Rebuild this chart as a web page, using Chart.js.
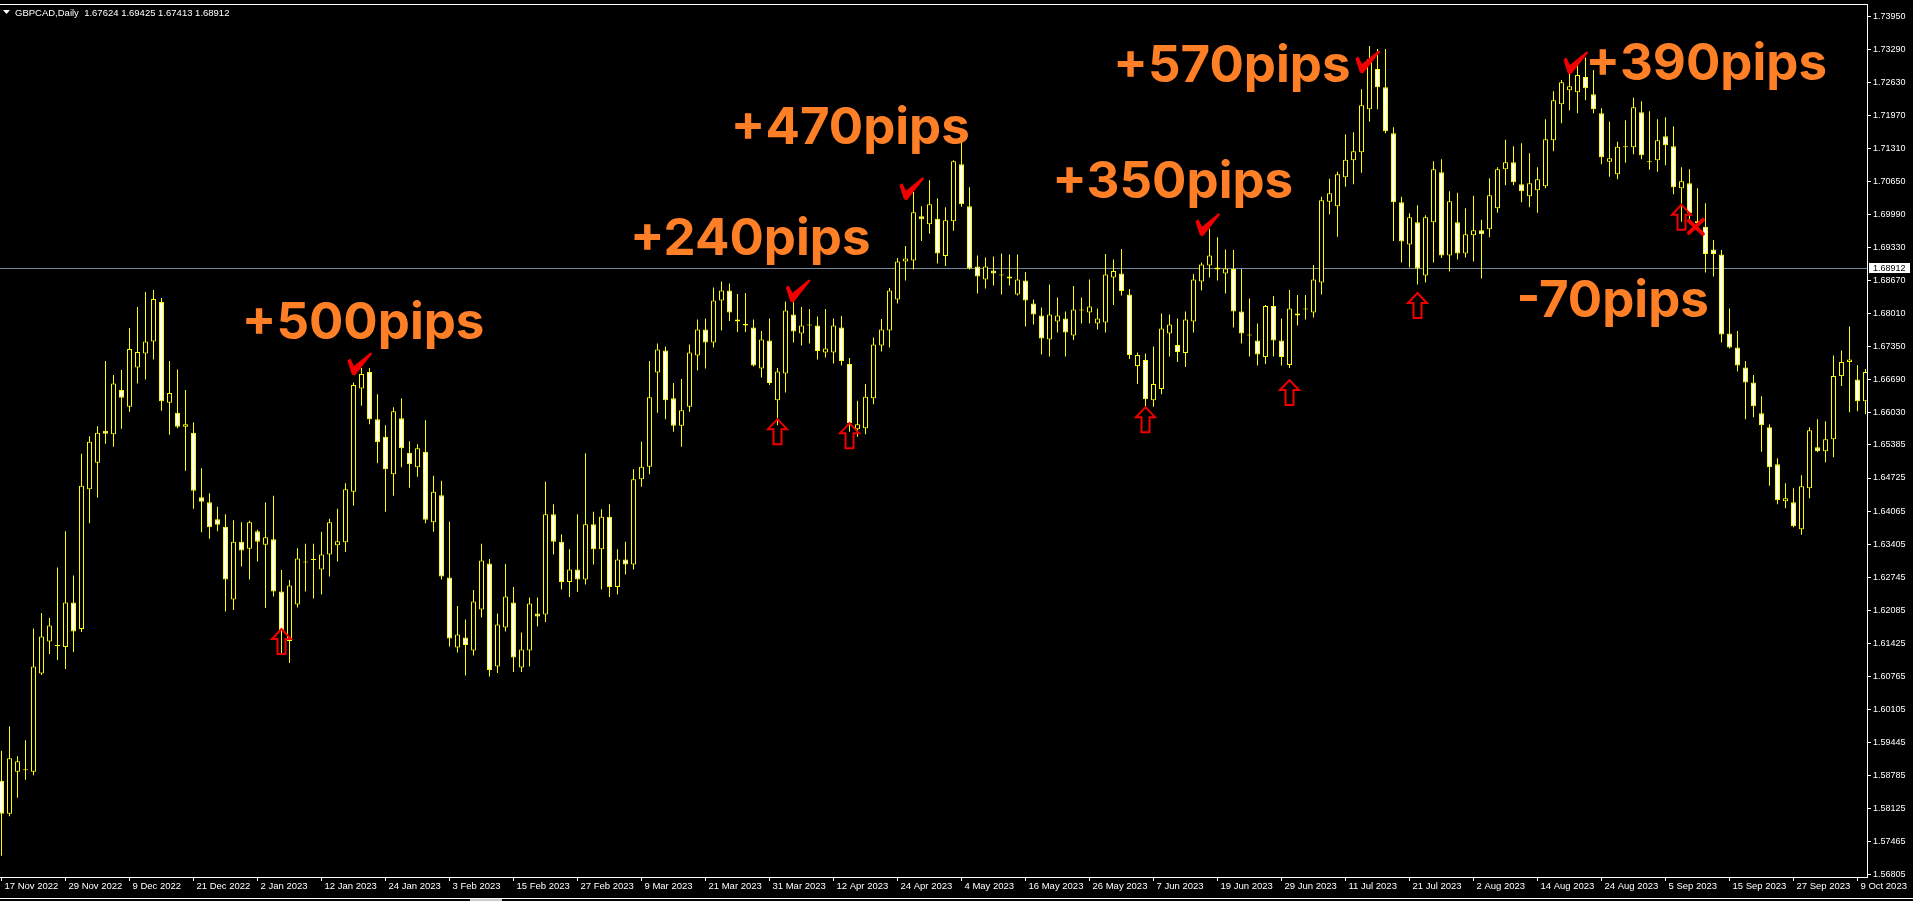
<!DOCTYPE html>
<html lang="ja">
<head>
  <meta charset="UTF-8">
  <title>GBPCAD,Daily</title>
  <script src="https://cdn.jsdelivr.net/npm/chart.js"></script>
  <style>
    body { margin: 0; background: #000; overflow: hidden; }
    canvas { display: block; }
  </style>
</head>
<body>
  <canvas id="candleChart" width="1913" height="901"></canvas>
  <script>
    // daily OHLC, one entry per bar (17 Nov 2022 .. 10 Oct 2023)
    const opens = [
      1.5868, 1.5802, 1.5886, 1.5889, 1.5886, 1.6082, 1.6146, 1.6137, 1.6135, 1.6224,
      1.6171, 1.6450, 1.6503, 1.6567, 1.6560, 1.6648, 1.6615, 1.6693, 1.6721, 1.6745,
      1.6824, 1.6623, 1.6603, 1.6575, 1.6563, 1.6434, 1.6424, 1.6390, 1.6375, 1.6230,
      1.6345, 1.6331, 1.6366, 1.6339, 1.6350, 1.6246, 1.6147, 1.6220, 1.6304, 1.6309,
      1.6290, 1.6320, 1.6338, 1.6344, 1.6445, 1.6651, 1.6684, 1.6590, 1.6555, 1.6480,
      1.6592, 1.6523, 1.6494, 1.6525, 1.6384, 1.6438, 1.6274, 1.6134, 1.6154, 1.6128,
      1.6210, 1.6302, 1.6096, 1.6174, 1.6224, 1.6094, 1.6128, 1.6202, 1.6200, 1.6400,
      1.6345, 1.6265, 1.6290, 1.6270, 1.6380, 1.6330, 1.6395, 1.6255, 1.6310, 1.6300,
      1.6470, 1.6495, 1.6683, 1.6727, 1.6632, 1.6577, 1.6615, 1.6717, 1.6769, 1.6743,
      1.6827, 1.6847, 1.6789, 1.6780, 1.6773, 1.6691, 1.6747, 1.6628, 1.6681, 1.6799,
      1.6761, 1.6777, 1.6777, 1.6723, 1.6723, 1.6773, 1.6700, 1.6570, 1.6572, 1.6632,
      1.6737, 1.6767, 1.6829, 1.6905, 1.6907, 1.6995, 1.6979, 1.6990, 1.6916, 1.6985,
      1.7099, 1.7015, 1.6895, 1.6869, 1.6887, 1.6877, 1.6875, 1.6839, 1.6867, 1.6821,
      1.6797, 1.6749, 1.6785, 1.6791, 1.6757, 1.6807, 1.6803, 1.6781, 1.6783, 1.6873,
      1.6881, 1.6839, 1.6696, 1.6708, 1.6628, 1.6650, 1.6761, 1.6738, 1.6722, 1.6785,
      1.6865, 1.6897, 1.6893, 1.6881, 1.6890, 1.6805, 1.6757, 1.6747, 1.6714, 1.6816,
      1.6747, 1.6698, 1.6797, 1.6809, 1.6803, 1.6863, 1.7024, 1.7015, 1.7073, 1.7107,
      1.7123, 1.7209, 1.7289, 1.7253, 1.7161, 1.7023, 1.6939, 1.6983, 1.6877, 1.6983,
      1.7083, 1.6917, 1.6983, 1.6921, 1.6957, 1.6967, 1.6969, 1.7011, 1.7089, 1.7103,
      1.7059, 1.7035, 1.7047, 1.7055, 1.7147, 1.7219, 1.7247, 1.7243, 1.7273, 1.7239,
      1.7201, 1.7104, 1.7079, 1.7133, 1.7133, 1.7203, 1.7103, 1.7107, 1.7155, 1.7135,
      1.7051, 1.7061, 1.6985, 1.6974, 1.6929, 1.6919, 1.6761, 1.6733, 1.6693, 1.6663,
      1.6602, 1.6574, 1.6500, 1.6426, 1.6424, 1.6370, 1.6452, 1.6534, 1.6526, 1.6550,
      1.6676, 1.6704, 1.6669, 1.6626
    ];
    const highs = [
      1.5928, 1.5977, 1.5917, 1.5949, 1.6172, 1.6203, 1.6193, 1.6294, 1.6366, 1.6278,
      1.6521, 1.6556, 1.6576, 1.6706, 1.6678, 1.6688, 1.6772, 1.6814, 1.6844, 1.6848,
      1.6832, 1.6706, 1.6689, 1.6648, 1.6584, 1.6492, 1.6442, 1.6415, 1.6400, 1.6388,
      1.6384, 1.6387, 1.6369, 1.6424, 1.6437, 1.6289, 1.6269, 1.6332, 1.6341, 1.6341,
      1.6365, 1.6391, 1.6411, 1.6462, 1.6663, 1.6692, 1.6692, 1.6640, 1.6578, 1.6614,
      1.6632, 1.6546, 1.6540, 1.6588, 1.6477, 1.6467, 1.6385, 1.6217, 1.6190, 1.6249,
      1.6341, 1.6311, 1.6202, 1.6301, 1.6255, 1.6164, 1.6234, 1.6234, 1.6465, 1.6420,
      1.6360, 1.6330, 1.6400, 1.6522, 1.6405, 1.6410, 1.6420, 1.6330, 1.6345, 1.6490,
      1.6545, 1.6706, 1.6741, 1.6735, 1.6662, 1.6670, 1.6739, 1.6789, 1.6791, 1.6853,
      1.6865, 1.6861, 1.6840, 1.6842, 1.6789, 1.6766, 1.6791, 1.6692, 1.6825, 1.6835,
      1.6814, 1.6810, 1.6795, 1.6810, 1.6791, 1.6796, 1.6712, 1.6627, 1.6660, 1.6753,
      1.6790, 1.6852, 1.6912, 1.6936, 1.7044, 1.7015, 1.7067, 1.7031, 1.7013, 1.7107,
      1.7145, 1.7053, 1.6917, 1.6913, 1.6915, 1.6921, 1.6919, 1.6919, 1.6884, 1.6829,
      1.6813, 1.6859, 1.6833, 1.6805, 1.6856, 1.6833, 1.6869, 1.6811, 1.6920, 1.6909,
      1.6930, 1.6850, 1.6723, 1.6721, 1.6735, 1.6801, 1.6799, 1.6791, 1.6805, 1.6880,
      1.6903, 1.6970, 1.6953, 1.6929, 1.6928, 1.6890, 1.6831, 1.6781, 1.6818, 1.6836,
      1.6791, 1.6848, 1.6838, 1.6838, 1.6898, 1.7034, 1.7070, 1.7084, 1.7159, 1.7163,
      1.7249, 1.7335, 1.7329, 1.7329, 1.7173, 1.7034, 1.7001, 1.7017, 1.6997, 1.7105,
      1.7109, 1.7045, 1.7042, 1.7011, 1.7036, 1.6988, 1.7071, 1.7093, 1.7148, 1.7135,
      1.7141, 1.7121, 1.7093, 1.7189, 1.7245, 1.7267, 1.7281, 1.7305, 1.7312, 1.7287,
      1.7211, 1.7184, 1.7144, 1.7187, 1.7232, 1.7225, 1.7205, 1.7189, 1.7193, 1.7175,
      1.7093, 1.7089, 1.7051, 1.7021, 1.6948, 1.6928, 1.6811, 1.6766, 1.6706, 1.6678,
      1.6636, 1.6580, 1.6512, 1.6462, 1.6452, 1.6478, 1.6574, 1.6590, 1.6586, 1.6717,
      1.6727, 1.6775, 1.6698, 1.6690
    ];
    const lows = [
      1.5718, 1.5797, 1.5834, 1.5870, 1.5879, 1.6079, 1.6121, 1.6109, 1.6091, 1.6125,
      1.6165, 1.6382, 1.6433, 1.6541, 1.6535, 1.6571, 1.6605, 1.6661, 1.6669, 1.6709,
      1.6607, 1.6559, 1.6572, 1.6487, 1.6411, 1.6364, 1.6351, 1.6366, 1.6206, 1.6209,
      1.6296, 1.6270, 1.6306, 1.6213, 1.6236, 1.6119, 1.6103, 1.6214, 1.6246, 1.6232,
      1.6240, 1.6276, 1.6306, 1.6325, 1.6417, 1.6617, 1.6580, 1.6502, 1.6405, 1.6437,
      1.6494, 1.6453, 1.6475, 1.6382, 1.6365, 1.6270, 1.6136, 1.6124, 1.6078, 1.6118,
      1.6194, 1.6076, 1.6083, 1.6166, 1.6085, 1.6085, 1.6096, 1.6176, 1.6185, 1.6320,
      1.6250, 1.6235, 1.6245, 1.6260, 1.6300, 1.6250, 1.6235, 1.6240, 1.6280, 1.6290,
      1.6455, 1.6480, 1.6603, 1.6590, 1.6565, 1.6535, 1.6605, 1.6687, 1.6691, 1.6733,
      1.6767, 1.6786, 1.6764, 1.6764, 1.6695, 1.6673, 1.6658, 1.6578, 1.6643, 1.6743,
      1.6737, 1.6741, 1.6709, 1.6713, 1.6701, 1.6697, 1.6565, 1.6555, 1.6560, 1.6620,
      1.6725, 1.6733, 1.6821, 1.6867, 1.6889, 1.6946, 1.6960, 1.6901, 1.6896, 1.6966,
      1.7014, 1.6889, 1.6841, 1.6851, 1.6857, 1.6839, 1.6857, 1.6837, 1.6775, 1.6779,
      1.6719, 1.6715, 1.6763, 1.6715, 1.6748, 1.6781, 1.6781, 1.6769, 1.6763, 1.6818,
      1.6837, 1.6710, 1.6660, 1.6612, 1.6615, 1.6640, 1.6715, 1.6704, 1.6694, 1.6763,
      1.6847, 1.6873, 1.6867, 1.6841, 1.6773, 1.6741, 1.6715, 1.6697, 1.6700, 1.6715,
      1.6697, 1.6692, 1.6777, 1.6789, 1.6793, 1.6839, 1.6999, 1.6954, 1.7054, 1.7059,
      1.7082, 1.7184, 1.7209, 1.7161, 1.6946, 1.6903, 1.6893, 1.6859, 1.6863, 1.6903,
      1.6912, 1.6885, 1.6909, 1.6913, 1.6905, 1.6871, 1.6953, 1.7002, 1.7057, 1.7057,
      1.7023, 1.7013, 1.7002, 1.7051, 1.7125, 1.7181, 1.7207, 1.7201, 1.7227, 1.7201,
      1.7099, 1.7074, 1.7069, 1.7102, 1.7119, 1.7109, 1.7088, 1.7084, 1.7097, 1.7039,
      1.6984, 1.6989, 1.6971, 1.6883, 1.6875, 1.6743, 1.6731, 1.6685, 1.6590, 1.6594,
      1.6525, 1.6457, 1.6420, 1.6412, 1.6374, 1.6359, 1.6432, 1.6524, 1.6504, 1.6514,
      1.6656, 1.6604, 1.6606, 1.6600
    ];
    const closes = [
      1.5802, 1.5913, 1.5907, 1.5890, 1.6096, 1.6156, 1.6178, 1.6138, 1.6224, 1.6166,
      1.6457, 1.6545, 1.6563, 1.6561, 1.6661, 1.6633, 1.6730, 1.6724, 1.6745, 1.6830,
      1.6626, 1.6642, 1.6575, 1.6580, 1.6447, 1.6425, 1.6374, 1.6379, 1.6270, 1.6345,
      1.6328, 1.6384, 1.6345, 1.6354, 1.6246, 1.6169, 1.6258, 1.6312, 1.6305, 1.6310,
      1.6320, 1.6384, 1.6346, 1.6450, 1.6658, 1.6680, 1.6590, 1.6544, 1.6490, 1.6606,
      1.6532, 1.6500, 1.6532, 1.6389, 1.6445, 1.6276, 1.6152, 1.6160, 1.6139, 1.6226,
      1.6308, 1.6089, 1.6180, 1.6236, 1.6114, 1.6130, 1.6222, 1.6196, 1.6400, 1.6345,
      1.6265, 1.6290, 1.6270, 1.6380, 1.6330, 1.6395, 1.6255, 1.6310, 1.6300, 1.6470,
      1.6495, 1.6634, 1.6729, 1.6628, 1.6577, 1.6608, 1.6723, 1.6769, 1.6743, 1.6827,
      1.6847, 1.6803, 1.6785, 1.6777, 1.6697, 1.6749, 1.6662, 1.6685, 1.6807, 1.6765,
      1.6777, 1.6777, 1.6726, 1.6731, 1.6777, 1.6706, 1.6582, 1.6580, 1.6635, 1.6739,
      1.6769, 1.6847, 1.6905, 1.6911, 1.7003, 1.6989, 1.7019, 1.6921, 1.6987, 1.7105,
      1.7019, 1.6891, 1.6875, 1.6895, 1.6881, 1.6877, 1.6871, 1.6869, 1.6827, 1.6799,
      1.6751, 1.6799, 1.6797, 1.6763, 1.6809, 1.6807, 1.6815, 1.6791, 1.6879, 1.6886,
      1.6846, 1.6718, 1.6718, 1.6630, 1.6660, 1.6771, 1.6779, 1.6724, 1.6789, 1.6869,
      1.6899, 1.6917, 1.6889, 1.6891, 1.6805, 1.6761, 1.6757, 1.6719, 1.6816, 1.6747,
      1.6714, 1.6811, 1.6801, 1.6809, 1.6869, 1.7027, 1.7041, 1.7079, 1.7108, 1.7125,
      1.7217, 1.7309, 1.7253, 1.7165, 1.7023, 1.6945, 1.6993, 1.6891, 1.6993, 1.7089,
      1.6917, 1.7025, 1.6921, 1.6959, 1.6967, 1.6959, 1.7037, 1.7089, 1.7103, 1.7063,
      1.7045, 1.7061, 1.7069, 1.7149, 1.7227, 1.7263, 1.7255, 1.7277, 1.7251, 1.7209,
      1.7113, 1.7111, 1.7134, 1.7133, 1.7213, 1.7117, 1.7103, 1.7147, 1.7137, 1.7053,
      1.7065, 1.7001, 1.6981, 1.6920, 1.6920, 1.6759, 1.6733, 1.6697, 1.6663, 1.6616,
      1.6578, 1.6494, 1.6428, 1.6432, 1.6376, 1.6456, 1.6568, 1.6526, 1.6550, 1.6676,
      1.6704, 1.6709, 1.6626, 1.6684
    ];

    // time axis labels, one every 8 bars
    const dateLabels = [
      '17 Nov 2022', '29 Nov 2022', '9 Dec 2022', '21 Dec 2022', '2 Jan 2023', '12 Jan 2023',
      '24 Jan 2023', '3 Feb 2023', '15 Feb 2023', '27 Feb 2023', '9 Mar 2023', '21 Mar 2023',
      '31 Mar 2023', '12 Apr 2023', '24 Apr 2023', '4 May 2023', '16 May 2023', '26 May 2023',
      '7 Jun 2023', '19 Jun 2023', '29 Jun 2023', '11 Jul 2023', '21 Jul 2023', '2 Aug 2023',
      '14 Aug 2023', '24 Aug 2023', '5 Sep 2023', '15 Sep 2023', '27 Sep 2023', '9 Oct 2023'
    ];
    const labelEvery = 8;

    const priceTicks = [
      1.56805, 1.57465, 1.58125, 1.58785, 1.59445, 1.60105, 1.60765, 1.61425, 1.62085,
      1.62745, 1.63405, 1.64065, 1.64725, 1.65385, 1.66030, 1.66690, 1.67350, 1.68010,
      1.68670, 1.69330, 1.69990, 1.70650, 1.71310, 1.71970, 1.72630, 1.73290, 1.73950
    ];
    const priceMin = 1.56758;
    const priceMax = 1.74190;
    const bidPrice = 1.68912;
    const titleText = 'GBPCAD,Daily  1.67624 1.69425 1.67413 1.68912';

    // annotations drawn on top of the chart (bar index, price)
    const pipTexts = ['+500pips', '+240pips', '+470pips', '+350pips', '+570pips', '+390pips', '-70pips'];
    const pipBars = [45.2, 93.6, 106.1, 146.4, 153.8, 213.1, 201.4];
    const pipPrices = [1.6750, 1.6918, 1.7139, 1.7032, 1.7263, 1.7267, 1.6794];

    const checkBars = [44.8, 99.6, 113.8, 150.8, 170.8, 196.8];
    const checkPrices = [1.6700, 1.6846, 1.7050, 1.6978, 1.7303, 1.7301];

    const arrowBars = [35, 97, 106, 143, 161, 177, 210];
    const arrowPrices = [1.6173, 1.6592, 1.6584, 1.6616, 1.6670, 1.6844, 1.7020];

    const crossBars = [211.8];
    const crossPrices = [1.6974];

    const bodyData = opens.map((o, i) => ({ x: i, y: [Math.min(o, closes[i]), Math.max(o, closes[i])] }));
    const bodyColors = opens.map((o, i) => closes[i] >= o ? '#000000' : '#ffffff');
    const wickData = highs.map((h, i) => ({ x: i, y: [lows[i], h] }));

    const markPlugin = {
      id: 'marks',
      beforeDatasetsDraw(chart) {
        const ctx = chart.ctx;
        const area = chart.chartArea;
        const by = Math.round(chart.scales.y.getPixelForValue(bidPrice)) + 0.5;
        ctx.save();
        ctx.strokeStyle = '#778899';
        ctx.lineWidth = 1;
        ctx.beginPath();
        ctx.moveTo(area.left, by);
        ctx.lineTo(area.right, by);
        ctx.stroke();
        ctx.restore();
      },
      afterDatasetsDraw(chart) {
        const ctx = chart.ctx;
        const xs = chart.scales.x;
        const ys = chart.scales.y;
        ctx.save();

        // pips texts
        ctx.fillStyle = '#ff7f27';
        ctx.font = 'bold 51px Inter, "Noto Sans", sans-serif';
        ctx.textAlign = 'center';
        ctx.textBaseline = 'alphabetic';
        pipTexts.forEach((t, k) => {
          ctx.fillText(t, xs.getPixelForValue(pipBars[k]), ys.getPixelForValue(pipPrices[k]));
        });

        // check marks
        ctx.fillStyle = '#f00000';
        checkBars.forEach((b, k) => {
          const cx = xs.getPixelForValue(b);
          const cy = ys.getPixelForValue(checkPrices[k]);
          ctx.beginPath();
          ctx.moveTo(cx - 12.5, cy - 3.5);
          ctx.lineTo(cx - 9.5, cy - 5.5);
          ctx.lineTo(cx - 6, cy + 2);
          ctx.lineTo(cx + 10.5, cy - 11.5);
          ctx.lineTo(cx + 12.5, cy - 10.5);
          ctx.lineTo(cx - 5, cy + 11.5);
          ctx.lineTo(cx - 8, cy + 10.5);
          ctx.closePath();
          ctx.fill();
        });

        // hollow up arrows
        ctx.strokeStyle = '#f00000';
        ctx.lineWidth = 2;
        ctx.lineJoin = 'miter';
        arrowBars.forEach((b, k) => {
          const cx = xs.getPixelForValue(b);
          const ty = ys.getPixelForValue(arrowPrices[k]);
          ctx.beginPath();
          ctx.moveTo(cx, ty + 1);
          ctx.lineTo(cx + 9.5, ty + 11);
          ctx.lineTo(cx + 4, ty + 11);
          ctx.lineTo(cx + 4, ty + 26);
          ctx.lineTo(cx - 4, ty + 26);
          ctx.lineTo(cx - 4, ty + 11);
          ctx.lineTo(cx - 9.5, ty + 11);
          ctx.closePath();
          ctx.stroke();
        });

        // cross
        ctx.lineWidth = 4;
        ctx.lineCap = 'round';
        crossBars.forEach((b, k) => {
          const cx = xs.getPixelForValue(b);
          const cy = ys.getPixelForValue(crossPrices[k]);
          ctx.beginPath();
          ctx.moveTo(cx - 7, cy - 6);
          ctx.lineTo(cx + 7, cy + 7);
          ctx.moveTo(cx + 7, cy - 7);
          ctx.lineTo(cx - 7, cy + 6);
          ctx.stroke();
        });
        ctx.restore();
      },
      afterDraw(chart) {
        const ctx = chart.ctx;
        const area = chart.chartArea;
        ctx.save();
        // top frame line
        ctx.fillStyle = '#ffffff';
        ctx.fillRect(0, area.top, area.right + 1, 1);
        // bottom window edge
        ctx.fillRect(0, 898, chart.width, 1);
        ctx.fillStyle = '#c8c8c8';
        ctx.fillRect(470, 899, 32, 2);

        // title
        ctx.fillStyle = '#ffffff';
        ctx.beginPath();
        ctx.moveTo(3, 10);
        ctx.lineTo(10, 10);
        ctx.lineTo(6.5, 14);
        ctx.closePath();
        ctx.fill();
        ctx.font = '9.5px "Liberation Sans", Arial, sans-serif';
        ctx.textBaseline = 'alphabetic';
        ctx.fillText(titleText, 15, 16);

        // bid price label on the axis
        const by = Math.round(chart.scales.y.getPixelForValue(bidPrice));
        ctx.fillStyle = '#ffffff';
        ctx.fillRect(area.right + 2, by - 5, 41, 10);
        ctx.fillStyle = '#000000';
        ctx.font = '9px "Liberation Sans", Arial, sans-serif';
        ctx.textBaseline = 'middle';
        ctx.fillText(bidPrice.toFixed(5), area.right + 6, by + 0.5);
        ctx.restore();
      }
    };

    const ctx = document.getElementById('candleChart').getContext('2d');
    const candleChart = new Chart(ctx, {
      type: 'bar',
      data: {
        datasets: [
          {
            label: 'body',
            data: bodyData,
            backgroundColor: bodyColors,
            borderColor: '#ffff00',
            borderWidth: 1,
            borderSkipped: false,
            barThickness: 5,
            minBarLength: 1,
            inflateAmount: 0,
            grouped: false,
            order: 0
          },
          {
            label: 'wick',
            data: wickData,
            backgroundColor: '#ffff00',
            borderWidth: 0,
            barThickness: 1,
            inflateAmount: 0,
            grouped: false,
            order: 1
          }
        ]
      },
      options: {
        responsive: false,
        animation: false,
        devicePixelRatio: 1,
        layout: { padding: { top: 4, left: 0, right: 0, bottom: 0 } },
        plugins: {
          legend: { display: false },
          tooltip: { enabled: false }
        },
        scales: {
          x: {
            type: 'linear',
            min: -0.1875,
            max: 233.1875,
            offset: false,
            afterBuildTicks: (scale) => {
              scale.ticks = dateLabels.map((d, k) => ({ value: k * labelEvery }));
            },
            afterFit: (scale) => {
              scale.height = 24;
              scale.paddingLeft = 0;
              scale.paddingRight = 0;
            },
            ticks: {
              callback: (value, index) => dateLabels[index],
              color: '#ffffff',
              font: { family: '"Liberation Sans", Arial, sans-serif', size: 9.5 },
              align: 'start',
              labelOffset: 3,
              padding: 0,
              autoSkip: false,
              maxRotation: 0
            },
            grid: { drawOnChartArea: false, offset: false, tickLength: 4, color: '#ffffff' },
            border: { color: '#ffffff' }
          },
          y: {
            type: 'linear',
            position: 'right',
            min: priceMin,
            max: priceMax,
            beginAtZero: false,
            afterBuildTicks: (scale) => {
              scale.ticks = priceTicks.map(v => ({ value: v }));
            },
            afterFit: (scale) => {
              scale.width = 46;
              scale.paddingTop = 0;
              scale.paddingBottom = 0;
            },
            ticks: {
              callback: (value) => value.toFixed(5),
              color: '#ffffff',
              font: { family: '"Liberation Sans", Arial, sans-serif', size: 9 },
              padding: 2,
              autoSkip: false
            },
            grid: { drawOnChartArea: false, tickLength: 4, color: '#ffffff' },
            border: { color: '#ffffff' }
          }
        }
      },
      plugins: [markPlugin]
    });
  </script>
</body>
</html>
